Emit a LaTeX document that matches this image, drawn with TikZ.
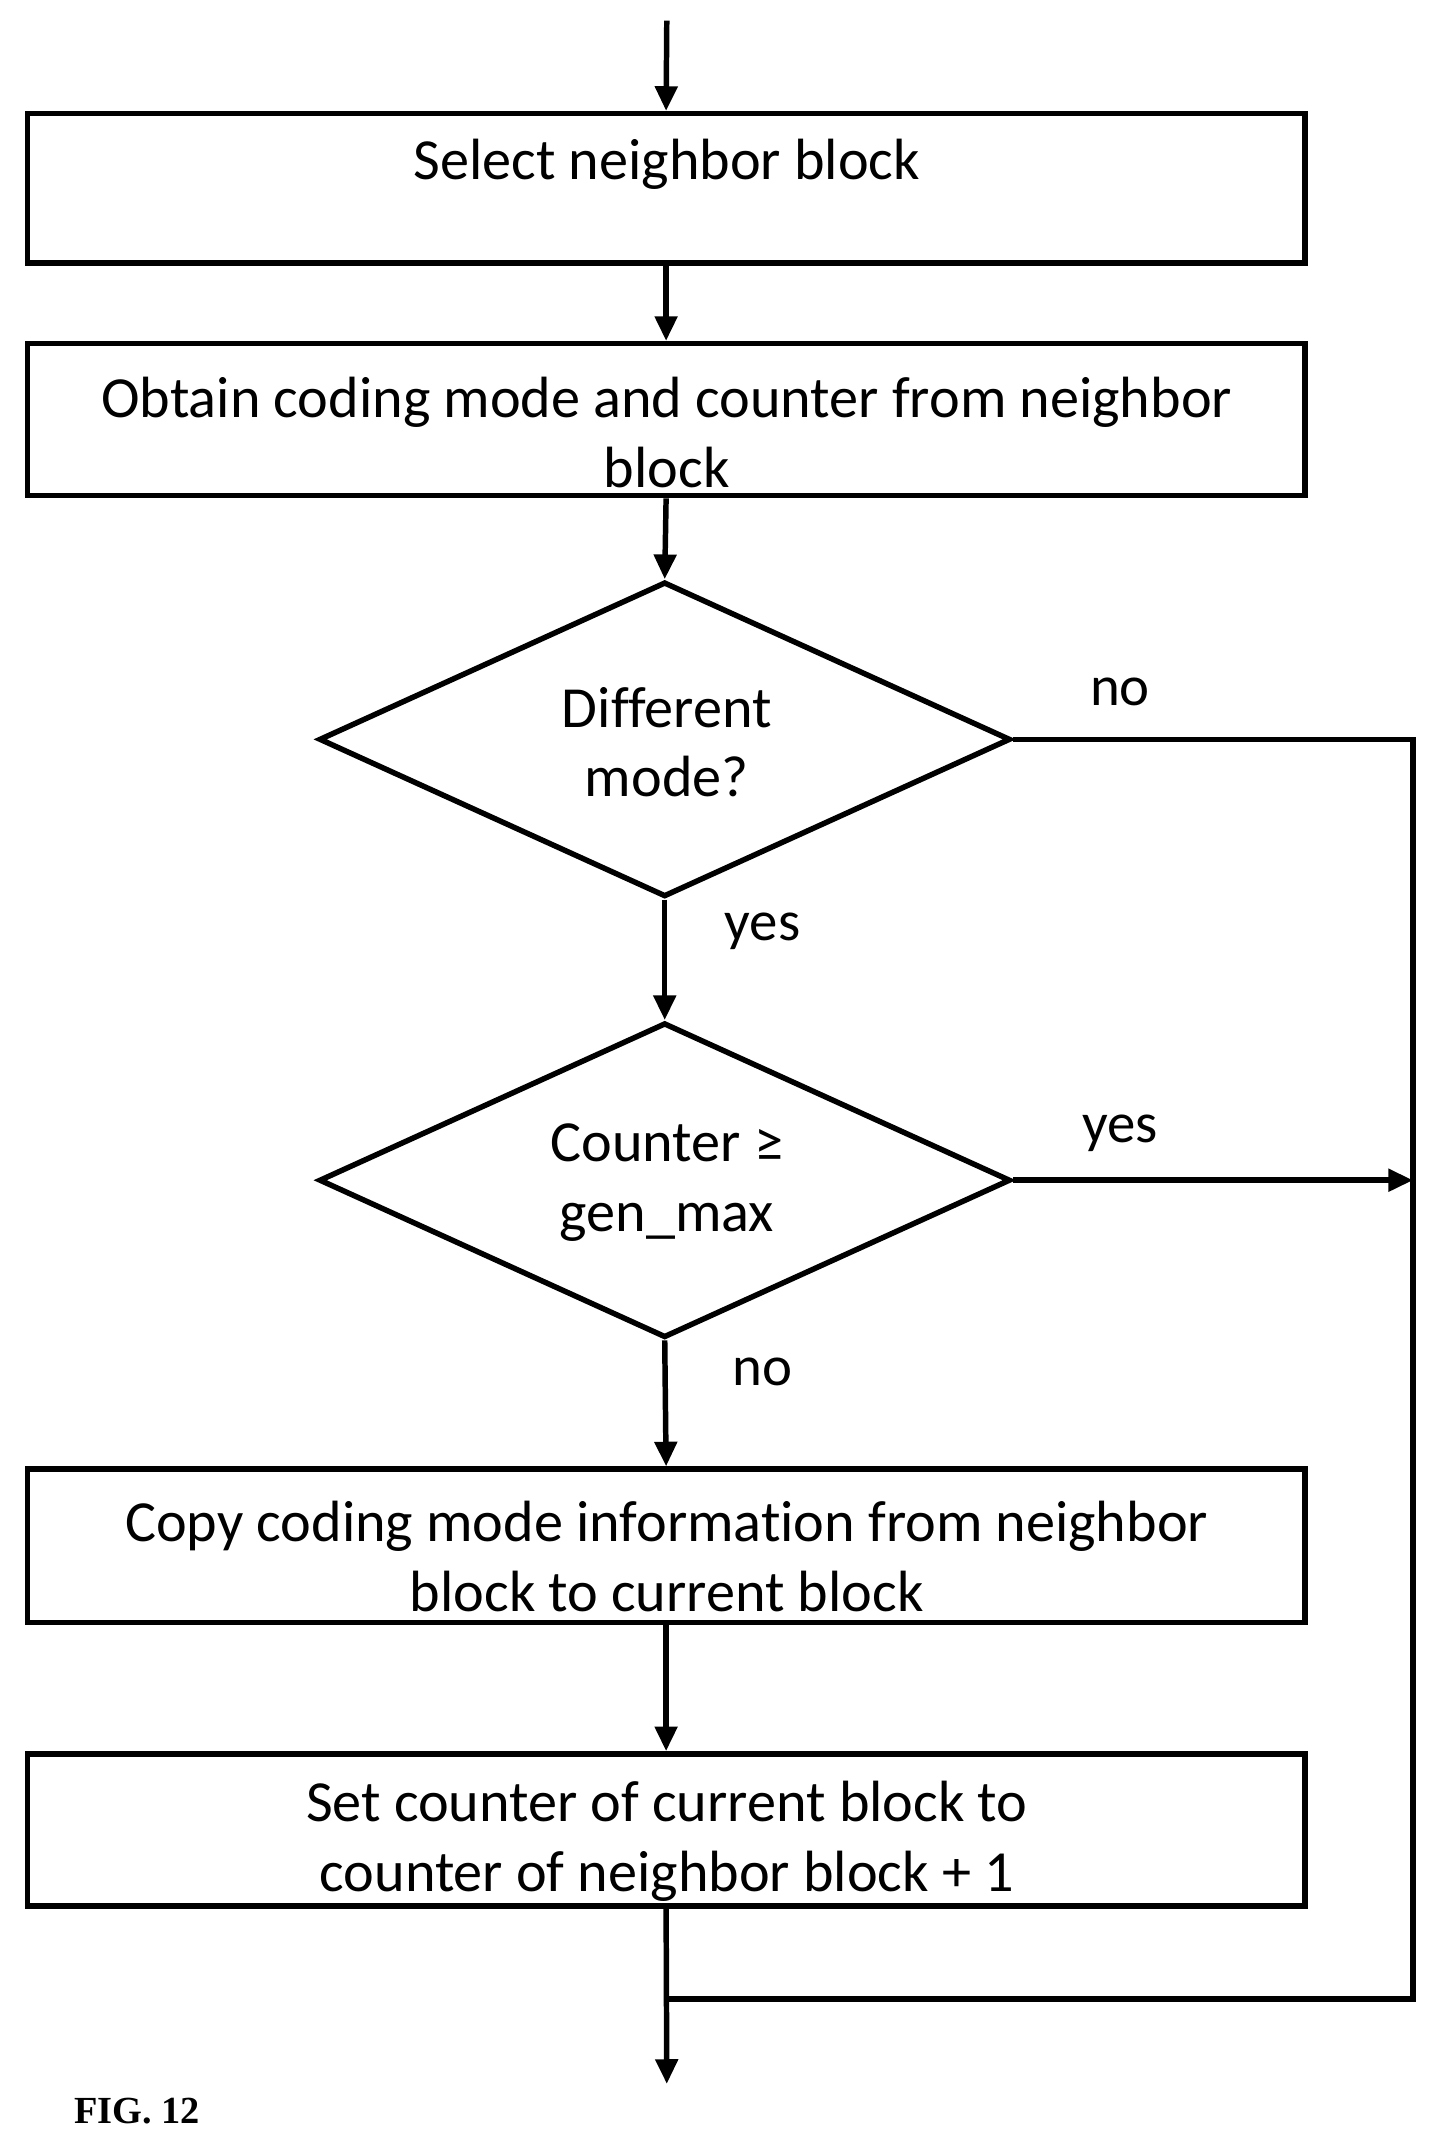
\documentclass[tikz,border=0pt]{standalone}
\usepackage{fontspec}
\setmainfont[Ligatures=NoCommon]{Carlito}
\newfontfamily\figfont{Liberation Serif}
\usetikzlibrary{arrows.meta,shapes.geometric}
\begin{document}
\begin{tikzpicture}[x=1pt,y=-1pt,
  ln/.style={line width=4pt},
  arr/.style={ln,-{Triangle[width=16pt,length=18pt]}},
  box/.style={draw,line width=4pt,minimum width=933pt,inner sep=0pt},
  dia/.style={draw,line width=4pt,diamond,minimum width=505pt,minimum height=230pt,inner sep=0pt,aspect=2.2},
  txt/.style={font=\fontsize{42.5}{51}\selectfont,align=center,inner sep=0pt},
  lab/.style={font=\fontsize{41.5}{44}\selectfont,inner sep=0pt}]
\useasboundingbox (0,0) rectangle (1054,1563);
\fill[white] (0,0) rectangle (1054,1563);
\coordinate (start) at (487,15);
\node[box,minimum height=109pt] (b1) at (486.5,137.5) {};
\node[box,minimum height=111pt] (b2) at (486.5,306.5) {};
\node[dia] (d1) at (485.5,540) {};
\node[dia] (d2) at (485.5,862) {};
\node[box,minimum height=112pt] (b3) at (486.5,1129) {};
\node[box,minimum height=111pt] (b4) at (486.5,1336.5) {};
\node[txt] (t1) at (487,120) {Select neighbor block};
\node[txt] (t2) at (487,316) {Obtain coding mode and counter from neighbor\\block};
\node[txt] (t3) at (487,542) {Different\\mode?};
\node[txt] (t4) at (487,864) {Counter ≥\\gen\_max};
\node[txt] (t5) at (487,1137) {Copy coding mode information from neighbor\\block to current block};
\node[txt] (t6) at (487,1345) {Set counter of current block to\\counter of neighbor block + 1};
\node[lab] (n1) at (818,505) {no};
\node[lab] (y1) at (557,680) {yes};
\node[lab] (y2) at (818,828) {yes};
\node[lab] (n2) at (557,1002) {no};
\node[font=\figfont\bfseries\fontsize{28}{30}\selectfont,inner sep=0pt] (fig) at (100,1542) {FIG. 12};
\coordinate (r1) at (1032,540);
\coordinate (r2) at (1032,862);
\coordinate (r3) at (1032,1460);
\coordinate (m) at (487,1460);
\coordinate (end) at (487,1522);
\draw[arr] (start) -- (b1.north);
\draw[arr] (b1.south) -- (b2.north);
\draw[arr] (b2.south) -- (d1.north);
\draw[arr] (d1.south) -- (d2.north);
\draw[arr] (d2.south) -- (b3.north);
\draw[arr] (b3.south) -- (b4.north);
\draw[arr] (b4.south) -- (end);
\draw[ln] (d1.east) -- (r1) -- (r3) -- (m);
\draw[arr] (d2.east) -- (r2);
\end{tikzpicture}
\end{document}
